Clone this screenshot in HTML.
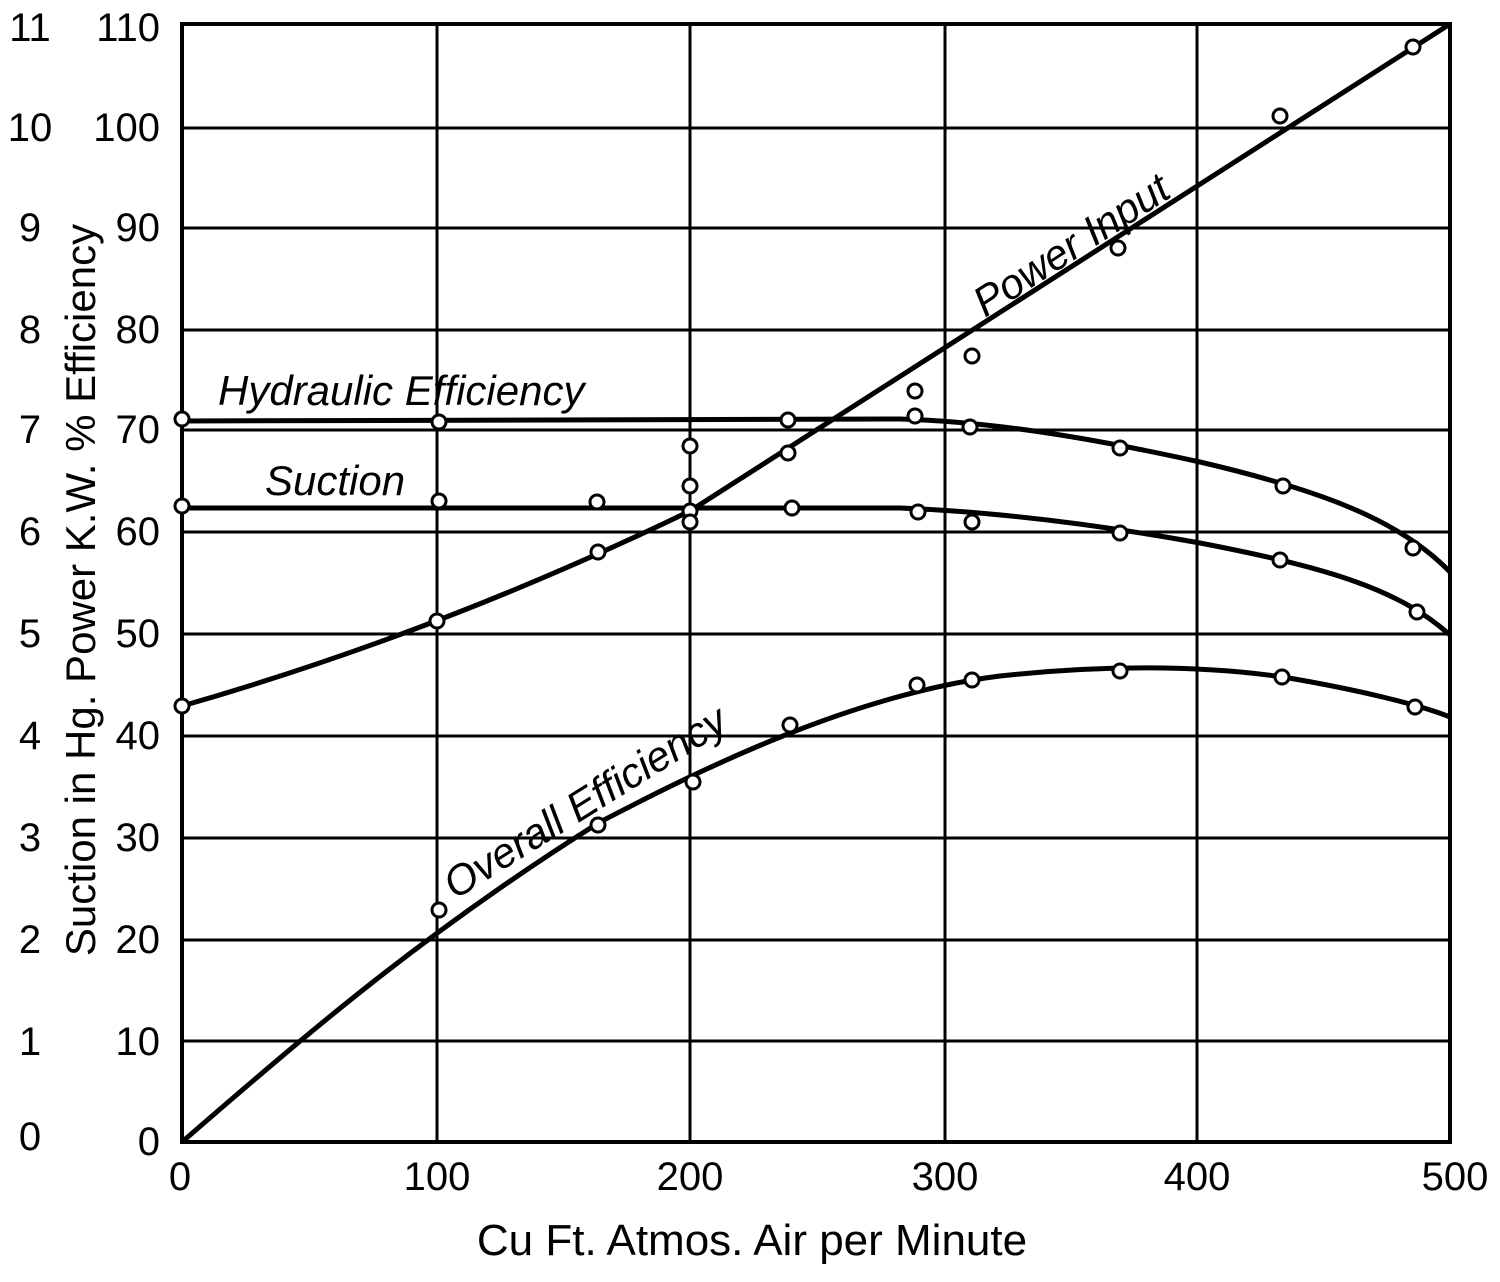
<!DOCTYPE html>
<html><head><style>body{margin:0;background:#fff}svg{display:block}</style></head><body>
<svg width="1500" height="1282" viewBox="0 0 1500 1282" xmlns="http://www.w3.org/2000/svg" font-family="Liberation Sans, sans-serif">
<g stroke="#000" stroke-width="3" fill="none">
<rect x="182" y="24" width="1268" height="1118" stroke-width="4"/>
<path d="M182,128H1450M182,228H1450M182,330H1450M182,430H1450M182,532H1450M182,634H1450M182,736H1450M182,838H1450M182,940H1450M182,1041H1450"/>
<path d="M437,24V1142M690,24V1142M945,24V1142M1197,24V1142"/>
</g>
<g stroke="#000" stroke-width="5" fill="none">
<path d="M182,706 Q440,632 690,511 L1450,24"/>
<path d="M182,421 L900,419 C1000,422 1100,440 1200,462 C1320,490 1400,520 1450,572"/>
<path d="M182,508 L900,508 C1000,512 1100,525 1200,543 C1330,568 1400,590 1450,635"/>
<path d="M182,1142 C300,1040 420,935 600,822 C700,770 850,695 1000,676 C1100,665 1200,665 1283,677 C1360,690 1420,705 1450,717"/>
</g>
<g stroke="#000" stroke-width="3" fill="#fff">
<circle cx="182" cy="706" r="7"/><circle cx="437" cy="621" r="7"/><circle cx="598" cy="552" r="7"/><circle cx="690" cy="511" r="7"/><circle cx="788" cy="453" r="7"/><circle cx="915" cy="391" r="7"/><circle cx="972" cy="356" r="7"/><circle cx="1118" cy="248" r="7"/><circle cx="1280" cy="116" r="7"/><circle cx="1413" cy="47" r="7"/>
<circle cx="182" cy="419" r="7"/><circle cx="439" cy="422" r="7"/><circle cx="788" cy="420" r="7"/><circle cx="915" cy="416" r="7"/><circle cx="970" cy="427" r="7"/><circle cx="1120" cy="448" r="7"/><circle cx="1283" cy="486" r="7"/><circle cx="1413" cy="548" r="7"/><circle cx="690" cy="446" r="7"/>
<circle cx="182" cy="506" r="7"/><circle cx="439" cy="501" r="7"/><circle cx="597" cy="502" r="7"/><circle cx="690" cy="486" r="7"/><circle cx="690" cy="522" r="7"/><circle cx="792" cy="508" r="7"/><circle cx="918" cy="512" r="7"/><circle cx="972" cy="522" r="7"/><circle cx="1120" cy="533" r="7"/><circle cx="1280" cy="560" r="7"/><circle cx="1417" cy="612" r="7"/>
<circle cx="439" cy="910" r="7"/><circle cx="598" cy="825" r="7"/><circle cx="693" cy="782" r="7"/><circle cx="790" cy="725" r="7"/><circle cx="917" cy="685" r="7"/><circle cx="972" cy="680" r="7"/><circle cx="1120" cy="671" r="7"/><circle cx="1282" cy="677" r="7"/><circle cx="1415" cy="707" r="7"/>
</g>
<g font-size="40" text-anchor="middle" fill="#000">
<text x="180" y="1190">0</text><text x="437" y="1190">100</text><text x="690" y="1190">200</text><text x="945" y="1190">300</text><text x="1197" y="1190">400</text><text x="1455" y="1190">500</text>
</g>
<text x="752" y="1255" font-size="44" text-anchor="middle">Cu Ft. Atmos. Air per Minute</text>
<g font-size="40" text-anchor="end">
<text x="160" y="1155">0</text><text x="160" y="1055">10</text><text x="160" y="953">20</text><text x="160" y="851">30</text><text x="160" y="749">40</text><text x="160" y="647">50</text><text x="160" y="545">60</text><text x="160" y="443">70</text><text x="160" y="343">80</text><text x="160" y="241">90</text><text x="160" y="141">100</text><text x="160" y="41">110</text>
</g>
<g font-size="40" text-anchor="middle">
<text x="30" y="1150">0</text><text x="30" y="1055">1</text><text x="30" y="953">2</text><text x="30" y="851">3</text><text x="30" y="749">4</text><text x="30" y="647">5</text><text x="30" y="545">6</text><text x="30" y="443">7</text><text x="30" y="343">8</text><text x="30" y="241">9</text><text x="30" y="141">10</text><text x="30" y="41">11</text>
</g>
<text transform="translate(95,590) rotate(-90)" font-size="42" text-anchor="middle">Suction in Hg. Power K.W. % Efficiency</text>
<g font-size="42" font-style="italic">
<text x="218" y="405">Hydraulic Efficiency</text>
<text x="265" y="495">Suction</text>
<text transform="translate(985,318) rotate(-33)">Power Input</text>
<text transform="translate(455,900) rotate(-32)">Overall Efficiency</text>
</g>
</svg>
</body></html>
